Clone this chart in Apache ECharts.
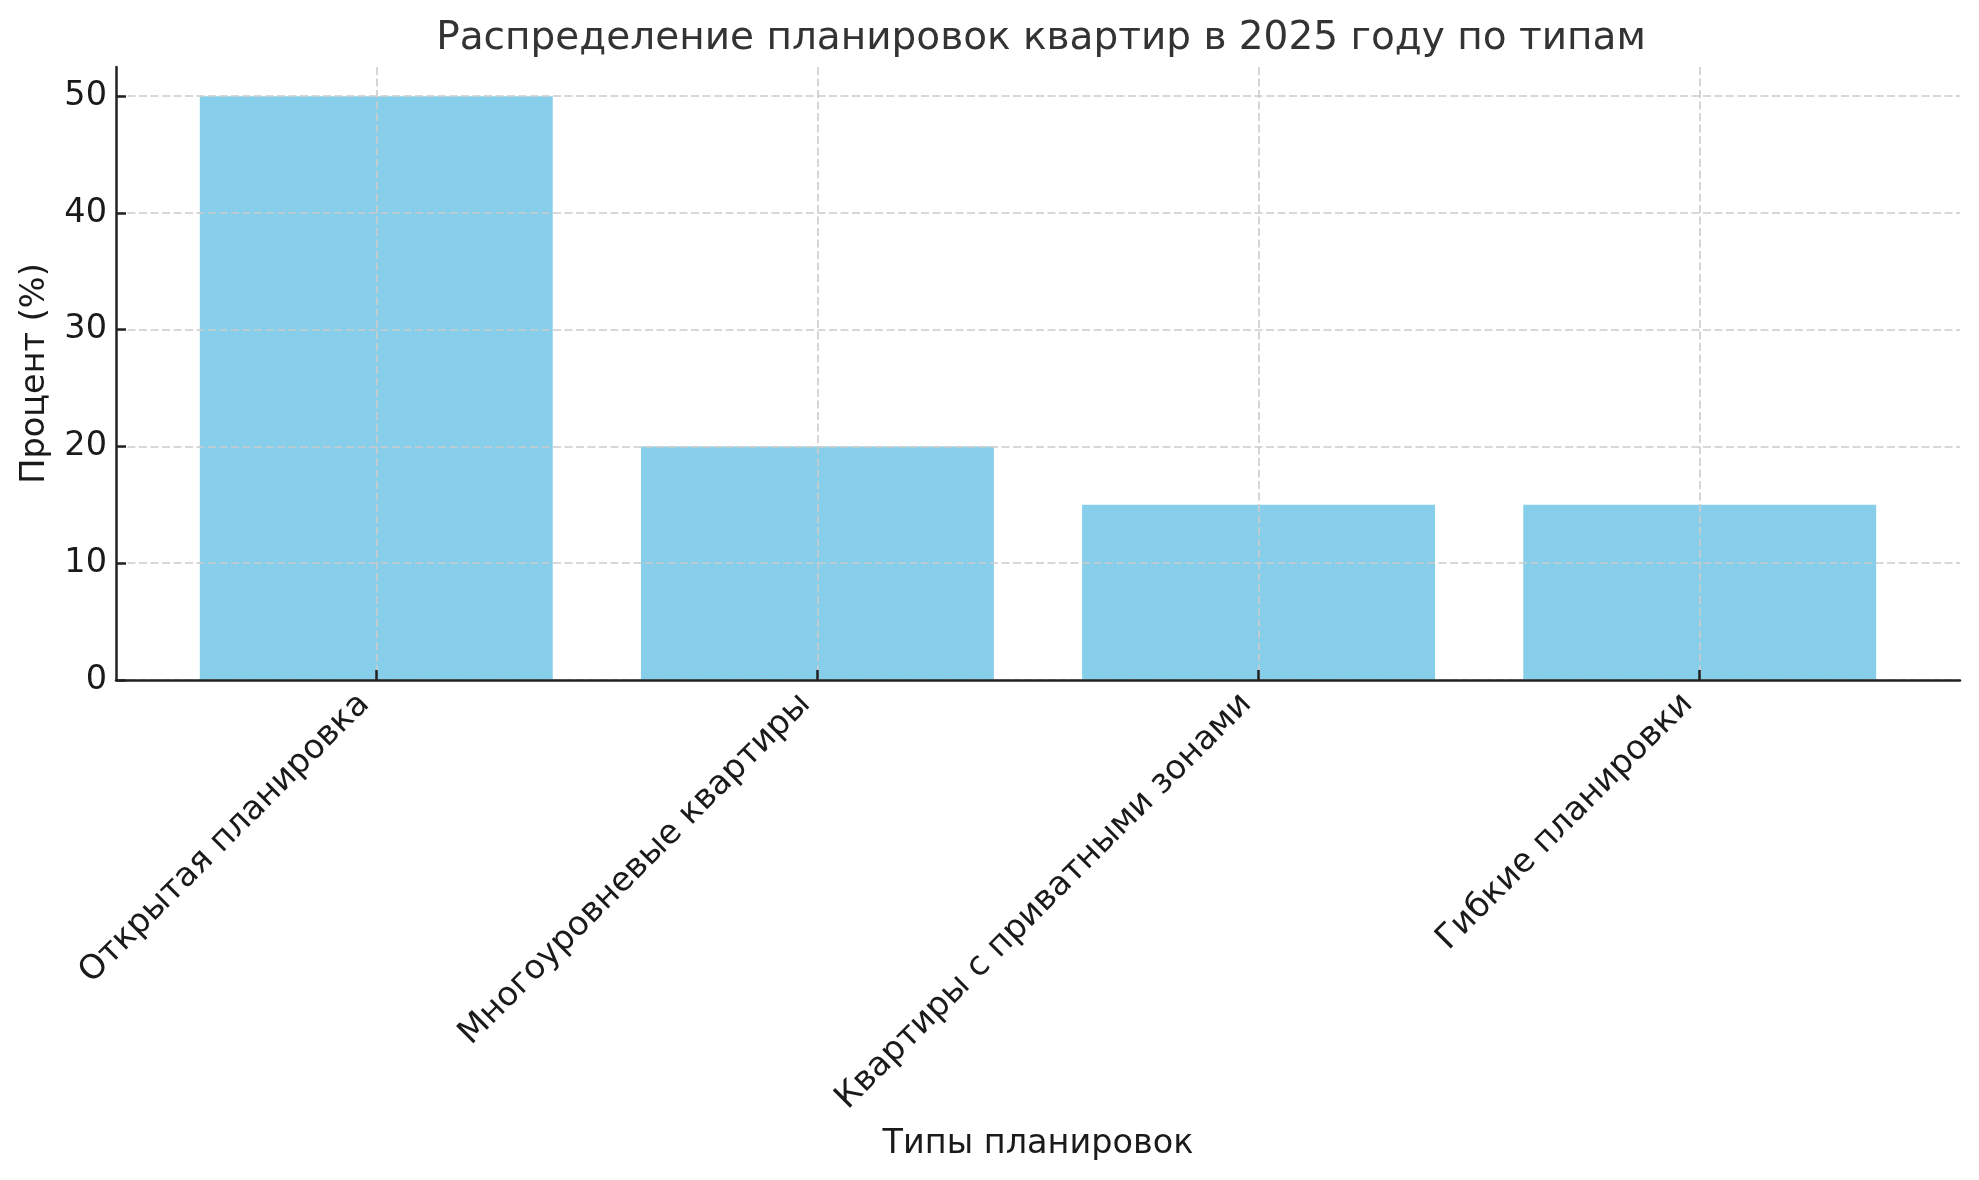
<!DOCTYPE html>
<html><head><meta charset="utf-8">
<script src="https://cdn.jsdelivr.net/npm/echarts@6/dist/echarts.min.js"></script>
<style>html,body{margin:0;padding:0;background:#fff}#c{width:1979px;height:1180px}</style>
</head><body><div id="c"></div>
<script>
const titleText = 'Распределение планировок квартир в 2025 году по типам';
const xName = 'Типы планировок';
const yName = 'Процент (%)';
const categories = ['Открытая планировка', 'Многоуровневые квартиры', 'Квартиры с приватными зонами', 'Гибкие планировки'];
const values = [50, 20, 15, 15];
const yTicks = [0, 10, 20, 30, 40, 50];

const FONT = 'DejaVu Sans';
const FS = 33.5;
const TXT = '#1a1a1a';
const chart = echarts.init(document.getElementById('c'), null, {renderer: 'canvas'});
const gridLine = {show: true, lineStyle: {color: '#cccccc', type: [8, 3.5], width: 1.6}};
chart.setOption({
  animation: false,
  textStyle: {fontFamily: FONT},
  title: {text: titleText, left: 1036, textAlign: 'center', top: 14,
    textStyle: {fontFamily: FONT, fontSize: 39, fontWeight: 'normal', color: '#333333'}},
  grid: [
    {left: 116, right: 19, top: 67, bottom: 500},
    {left: 116, right: 19, top: 96, bottom: 500},
    {left: 155.7, right: 58.7, top: 67, bottom: 500},
    {left: 376.3, right: 279.3, top: 67, bottom: 500}
  ],
  xAxis: [
    {gridIndex: 0, type: 'value', min: 0, max: 1, z: 8,
      axisLine: {show: true, onZero: false, lineStyle: {color: '#222', width: 2.5}},
      axisTick: {show: false}, axisLabel: {show: false}, splitLine: {show: false},
      name: xName, nameLocation: 'middle', nameGap: 447,
      nameTextStyle: {fontFamily: FONT, fontSize: FS, color: TXT}},
    {gridIndex: 1, type: 'value', min: 0, max: 1, show: false},
    {gridIndex: 2, type: 'category', data: categories,
      axisLine: {show: false}, axisTick: {show: false},
      axisLabel: {rotate: 45, fontFamily: FONT, fontSize: FS, color: TXT, margin: 7, interval: 0,
        padding: [0, 17, 6, 0]},
      splitLine: {show: false}},
    {gridIndex: 3, type: 'value', min: 0, max: 3, interval: 1, z: 5,
      axisLine: {show: false}, axisLabel: {show: false},
      axisTick: {show: true, inside: true, length: 10, lineStyle: {color: '#222', width: 2.5}},
      splitLine: gridLine}
  ],
  yAxis: [
    {gridIndex: 0, type: 'value', min: 0, max: 52.5, z: 8,
      axisLine: {show: true, onZero: false, lineStyle: {color: '#222', width: 2.5}},
      axisTick: {show: false}, axisLabel: {show: false}, splitLine: {show: false},
      name: yName, nameLocation: 'middle', nameGap: 64, nameRotate: 90,
      nameTextStyle: {fontFamily: FONT, fontSize: FS, color: TXT}},
    {gridIndex: 1, type: 'value', min: 0, max: 50, interval: 10, z: 5,
      axisLine: {show: false},
      axisTick: {show: true, inside: true, length: 10, lineStyle: {color: '#222', width: 2.5}},
      axisLabel: {fontFamily: FONT, fontSize: FS, color: TXT, margin: 9,
        formatter: v => yTicks.includes(v) ? String(v) : ''},
      splitLine: gridLine},
    {gridIndex: 2, type: 'value', min: 0, max: 52.5, show: false},
    {gridIndex: 3, type: 'value', min: 0, max: 52.5, show: false}
  ],
  series: [{
    type: 'bar', xAxisIndex: 2, yAxisIndex: 2, data: values, barWidth: '80%',
    itemStyle: {color: '#87CEEB'}, z: 2
  }]
});
</script></body></html>
